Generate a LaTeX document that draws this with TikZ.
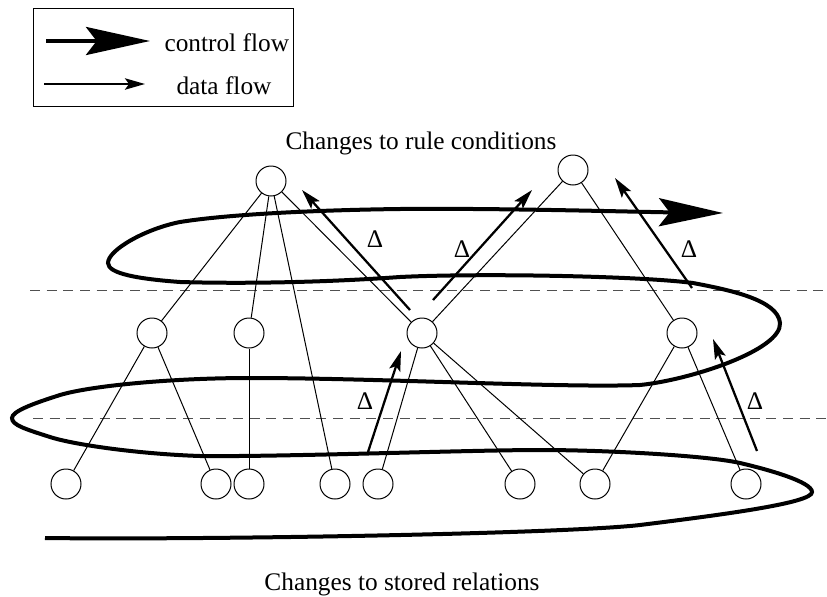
\documentclass[tikz,border=0pt]{standalone}
\usepackage{fontspec}
\setmainfont{Liberation Serif}
\usetikzlibrary{arrows.meta}

\tikzset{every picture/.style={line width=0.75pt},
  vertex/.style={circle,draw,minimum size=22.5pt,inner sep=0pt},
  ctrlflow/.style={line width=3pt,-{Stealth[length=48pt,width=21pt,inset=8pt]}},
  dataflow/.style={line width=1.7pt,-{Stealth[length=15pt,width=8.5pt,inset=3pt]}},
  divider/.style={color={rgb, 255:red, 80; green, 80; blue, 80},dash pattern={on 7.5pt off 5pt}},
  lbl/.style={inner sep=0.75pt,font=\fontsize{19}{22}\selectfont}
}

\begin{document}
\begin{tikzpicture}[x=0.75pt,y=0.75pt,yscale=-1,xscale=1]
\useasboundingbox (0,0) rectangle (827,596);

%Legend
\draw (33,8) rectangle (293,106);
\draw [ctrlflow] (46,41) -- (150,41);
\draw [dataflow] (44,84) -- (145,84);
% Text Node
\draw (163,51) node (ctrllbl) [lbl,anchor=base west] {control flow};
% Text Node
\draw (175,94) node (datalbl) [lbl,anchor=base west] {data flow};

%Dashed Lines
\draw [divider] (30,290) -- (827,290);
\draw [divider] (33,418) -- (827,418);

%Shape: Circles (rule level)
\draw (271,181) node (t1) [vertex] {};
\draw (573,170) node (t2) [vertex] {};
%Shape: Circles (middle level)
\draw (152,333) node (m1) [vertex] {};
\draw (249,333) node (m2) [vertex] {};
\draw (422,333) node (m3) [vertex] {};
\draw (682,333) node (m4) [vertex] {};
%Shape: Circles (stored relations)
\draw (66,484) node (b1) [vertex] {};
\draw (216,484) node (b2) [vertex] {};
\draw (249,484) node (b3) [vertex] {};
\draw (335,484) node (b4) [vertex] {};
\draw (378,484) node (b5) [vertex] {};
\draw (520,484) node (b6) [vertex] {};
\draw (595,484) node (b7) [vertex] {};
\draw (746,484) node (b8) [vertex] {};

%Straight Lines
\draw (t1) -- (m1) (t1) -- (m2) (t1) -- (b4) (t1) -- (m3);
\draw (t2) -- (m3) (t2) -- (m4);
\draw (m1) -- (b1) (m1) -- (b2);
\draw (m2) -- (b3);
\draw (m3) -- (b5) (m3) -- (b6) (m3) -- (b7);
\draw (m4) -- (b7) (m4) -- (b8);

%Data flow arrows
\draw [dataflow] (410,310) -- (302,190);
\draw [dataflow] (433,300) -- (532,190);
\draw [dataflow] (692,288) -- (615,178);
\draw [dataflow] (368,452) -- (401,351);
\draw [dataflow] (757,451) -- (713,339);
% Text Node
\draw (375,239) node (d1) [lbl] {Δ};
\draw (462,249) node (d2) [lbl] {Δ};
\draw (689,249) node (d3) [lbl] {Δ};
\draw (365,401) node (d4) [lbl] {Δ};
\draw (755,401) node (d5) [lbl] {Δ};

%Curve Lines (control flow)
\draw [ctrlflow] (45,538) .. controls (200,540) and (560,534) .. (640,525)
  .. controls (720,515) and (813,503) .. (812,492)
  .. controls (812,482) and (770,470) .. (740,463)
  .. controls (710,456) and (610,450) .. (540,450)
  .. controls (470,450) and (280,457) .. (200,456)
  .. controls (140,454) and (75,445) .. (50,437)
  .. controls (25,429) and (12,425) .. (12,418)
  .. controls (12,411) and (35,403) .. (60,395)
  .. controls (90,386) and (170,378) .. (250,378)
  .. controls (380,378) and (560,388) .. (640,385)
  .. controls (690,380) and (782,350) .. (780,323)
  .. controls (778,300) and (730,290) .. (693,283)
  .. controls (640,276) and (480,273) .. (400,277)
  .. controls (330,282) and (250,284) .. (180,282)
  .. controls (140,279) and (108,274) .. (108,263)
  .. controls (108,250) and (145,229) .. (180,222)
  .. controls (230,214) and (320,210) .. (400,209)
  .. controls (500,208) and (640,212) .. (723,213);

% Text Node
\draw (421,149) node (rulelbl) [lbl,anchor=base] {Changes to rule conditions};
% Text Node
\draw (402,590) node (storedlbl) [lbl,anchor=base] {Changes to stored relations};

\end{tikzpicture}
\end{document}
